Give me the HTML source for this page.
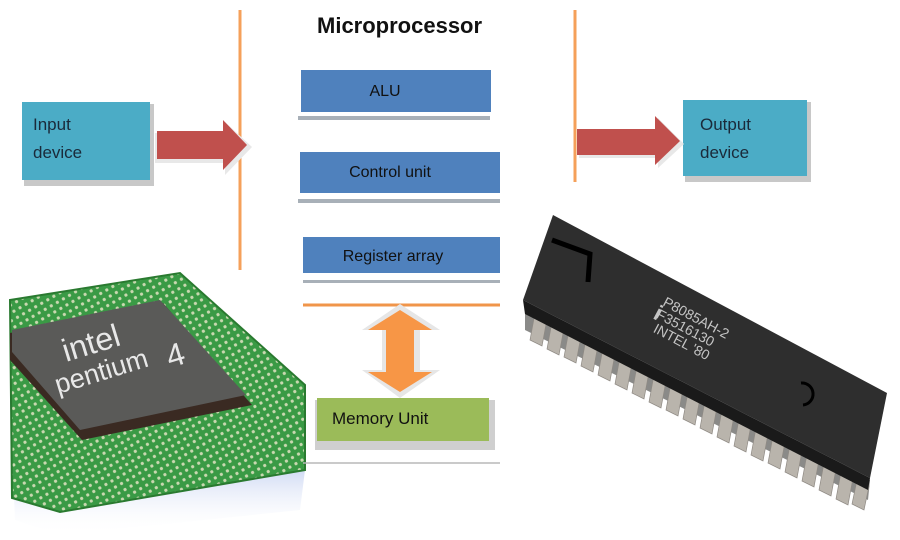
<!DOCTYPE html>
<html><head><meta charset="utf-8"><style>
html,body{margin:0;padding:0;background:#fff;}
svg{display:block;}
text{font-family:"Liberation Sans",sans-serif;}
</style></head><body>
<svg width="900" height="540" viewBox="0 0 900 540" xmlns="http://www.w3.org/2000/svg">
<defs>
<linearGradient id="blu" x1="0" y1="0" x2="0" y2="1"><stop offset="0" stop-color="#3a64d0"/><stop offset="1" stop-color="#fff" stop-opacity="0"/></linearGradient>
<pattern id="dots" width="7" height="7" patternUnits="userSpaceOnUse" patternTransform="rotate(-30)"><rect width="7" height="7" fill="#3a9a45"/><circle cx="3.5" cy="3.5" r="1.6" fill="#c9d8b0"/></pattern>
</defs>
<!-- pentium chip -->
<polygon points="10,400 305,470 300,510 60,535 15,520" fill="url(#blu)"/>
<polygon points="10,300 180,273 305,385 305,470 60,512 12,498" fill="url(#dots)"/>
<polygon points="10,300 180,273 305,385 305,470 60,512 12,498" fill="none" stroke="#2a7a30" stroke-width="2"/>
<polygon points="10,333 163,303 252,405 82,440 10,360" fill="#3a2a22"/>
<polygon points="12,330 160,300 246,395 80,430 12,352" fill="#5a5a58"/>
<text x="0" y="0" font-size="32" fill="#e8e8e8" transform="translate(66,362) rotate(-17)">intel</text>
<text x="0" y="0" font-size="27" fill="#e8e8e8" transform="translate(58,394) rotate(-17)">pentium</text>
<text x="0" y="0" font-size="32" fill="#e8e8e8" transform="translate(170,368) rotate(-17)">4</text>
<!-- 8085 chip -->
<g>
<polygon points="525,303 870,480 868,500 525,330" fill="#8a8a88"/>
<g fill="#b9b4ac" stroke="#8f8a84" stroke-width="0.7" transform="translate(2,8)">
<polygon points="533,305 545,311 540,338 528,332"/>
<polygon points="550,314 562,320 557,347 545,341"/>
<polygon points="567,322 579,328 574,355 562,349"/>
<polygon points="584,331 596,337 591,364 579,358"/>
<polygon points="601,340 613,346 608,373 596,367"/>
<polygon points="618,349 630,355 625,382 613,376"/>
<polygon points="635,358 647,364 642,391 630,385"/>
<polygon points="652,367 664,373 659,400 647,394"/>
<polygon points="669,375 681,381 676,408 664,402"/>
<polygon points="686,384 698,390 693,417 681,411"/>
<polygon points="703,393 715,399 710,426 698,420"/>
<polygon points="720,402 732,408 727,435 715,429"/>
<polygon points="737,411 749,417 744,444 732,438"/>
<polygon points="754,420 766,426 761,453 749,447"/>
<polygon points="771,428 783,434 778,461 766,455"/>
<polygon points="788,437 800,443 795,470 783,464"/>
<polygon points="805,446 817,452 812,479 800,473"/>
<polygon points="822,455 834,461 829,488 817,482"/>
<polygon points="839,464 851,470 846,497 834,491"/>
<polygon points="855,472 867,478 862,502 850,496"/>
</g>
<polygon points="553,215 887,393 870,478 523,300" fill="#2e2e2e"/>
<polygon points="523,300 870,478 868,490 525,314" fill="#1a1a1a"/>
<polyline points="552,240 590,254 588,282" fill="none" stroke="#000" stroke-width="5"/>
<path d="M801,383 a10,10 0 0 1 2,22" fill="none" stroke="#000" stroke-width="3"/>
<g transform="translate(662,305) rotate(28)" fill="#c4c4c4" font-size="14">
<text x="0" y="0">P8085AH-2</text>
<text x="0" y="14">F3516130</text>
<text x="4" y="28">INTEL '80</text>
</g>
<text x="0" y="0" font-size="22" font-weight="bold" fill="#c4c4c4" transform="translate(652,318) rotate(28)">i</text>
</g>
<!-- orange lines -->
<line x1="240" y1="10" x2="240" y2="270" stroke="#f5a05a" stroke-width="3"/>
<line x1="575" y1="10" x2="575" y2="182" stroke="#f5a05a" stroke-width="3"/>
<text x="317" y="33" font-size="22" font-weight="bold" fill="#111">Microprocessor</text>
<!-- input -->
<rect x="24" y="104" width="130" height="82" fill="#c8c8c8"/>
<rect x="22" y="102" width="128" height="78" fill="#4bacc6"/>
<text x="33" y="130" font-size="17" fill="#1a2a3a">Input</text>
<text x="33" y="158" font-size="17" fill="#1a2a3a">device</text>
<polygon points="155,133 225,133 225,122 252,147 225,175 225,163 155,163" fill="#e8e8e8"/>
<polygon points="157,131 223,131 223,120 247,145 223,170 223,159 157,159" fill="#c0504d"/>
<!-- output -->
<rect x="685" y="102" width="126" height="80" fill="#c8c8c8"/>
<rect x="683" y="100" width="124" height="76" fill="#4bacc6"/>
<text x="700" y="130" font-size="17" fill="#1a2a3a">Output</text>
<text x="700" y="158" font-size="17" fill="#1a2a3a">device</text>
<polygon points="579,131 658,131 658,118 684,144 658,168 658,158 579,158" fill="#e8e8e8"/>
<polygon points="577,129 655,129 655,116 680,141 655,165 655,155 577,155" fill="#c0504d"/>
<!-- processor blocks -->
<rect x="298" y="116" width="192" height="4" fill="#a8b0b8"/>
<rect x="301" y="70" width="190" height="42" fill="#4f81bd"/>
<text x="385" y="96" font-size="16" text-anchor="middle" fill="#111">ALU</text>
<rect x="298" y="199" width="202" height="4" fill="#a8b0b8"/>
<rect x="300" y="152" width="200" height="41" fill="#4f81bd"/>
<text x="390" y="177" font-size="16" text-anchor="middle" fill="#111">Control unit</text>
<rect x="303" y="280" width="197" height="3" fill="#a8b0b8"/>
<rect x="303" y="237" width="197" height="36" fill="#4f81bd"/>
<text x="393" y="261" font-size="16" text-anchor="middle" fill="#111">Register array</text>
<line x1="303" y1="305" x2="500" y2="305" stroke="#f0954a" stroke-width="3"/>
<!-- double arrow -->
<polygon points="400,304 440,330 420,330 420,370 440,370 400,398 362,370 382,370 382,330 362,330" fill="#e6e6e6"/>
<polygon points="400,310 432,330 414,330 414,372 432,372 400,392 368,372 386,372 386,330 368,330" fill="#f79646"/>
<!-- memory -->
<rect x="315" y="400" width="180" height="50" fill="#cfcfcf"/>
<rect x="317" y="398" width="172" height="43" fill="#9bbb59"/>
<text x="332" y="424" font-size="17" fill="#111">Memory Unit</text>
<line x1="303" y1="463" x2="500" y2="463" stroke="#b8b8b8" stroke-width="1.5"/>
</svg>
</body></html>
